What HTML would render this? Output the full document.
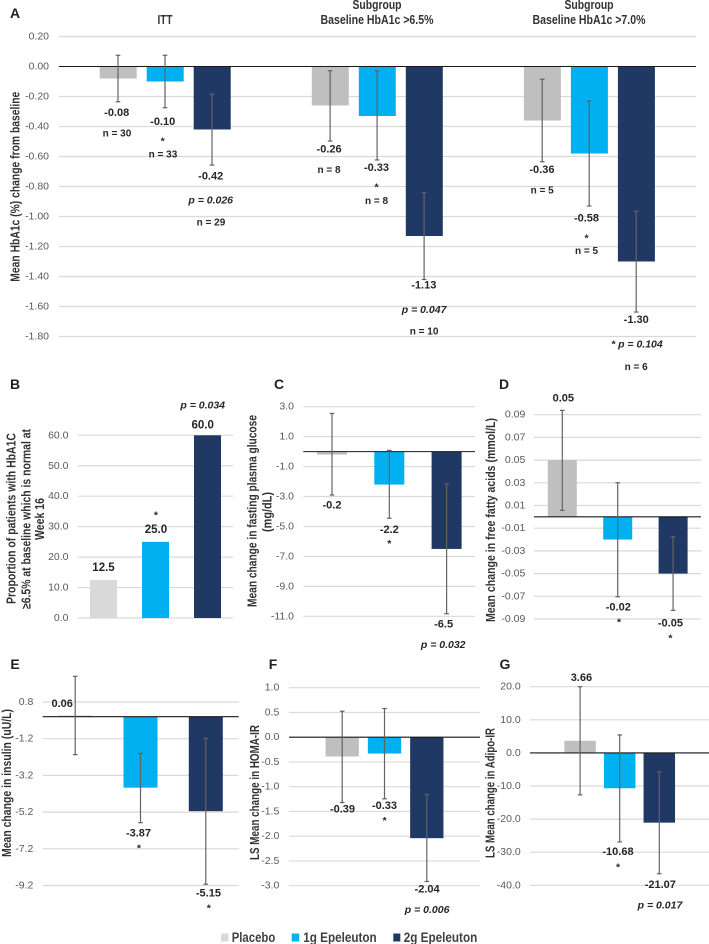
<!DOCTYPE html>
<html lang="en">
<head>
<meta charset="utf-8">
<title>Epeleuton glycaemic outcomes</title>
<style>
html,body{margin:0;padding:0;background:#fff;}
svg{display:block;font-family:"Liberation Sans",Arial,sans-serif;filter:blur(0.3px);}
.letter{font-size:14px;font-weight:bold;fill:#222;text-anchor:middle;dominant-baseline:central;}
.ptitle{font-size:12.5px;font-weight:bold;fill:#333;text-anchor:middle;dominant-baseline:central;}
.ytitle{font-size:12.5px;font-weight:bold;fill:#333;text-anchor:middle;dominant-baseline:central;}
.legend{font-size:13.5px;font-weight:bold;fill:#404040;dominant-baseline:central;}
</style>
</head>
<body>
<svg id="chart" width="709" height="944" viewBox="0 0 709 944" xmlns="http://www.w3.org/2000/svg">
  <rect width="709" height="944" fill="#fff"/>
  <g id="panels"></g>

  <text class="letter" x="15" y="13">A</text>
  <text class="letter" x="15" y="384">B</text>
  <text class="letter" x="279" y="384">C</text>
  <text class="letter" x="504" y="384">D</text>
  <text class="letter" x="15" y="664">E</text>
  <text class="letter" x="273" y="664">F</text>
  <text class="letter" x="505" y="664">G</text>

  <text class="ptitle" x="165" y="20" textLength="15" lengthAdjust="spacingAndGlyphs">ITT</text>
  <text class="ptitle" x="377" y="5" textLength="49" lengthAdjust="spacingAndGlyphs">Subgroup</text>
  <text class="ptitle" x="377" y="20" textLength="113" lengthAdjust="spacingAndGlyphs">Baseline HbA1c &gt;6.5%</text>
  <text class="ptitle" x="589" y="5" textLength="49" lengthAdjust="spacingAndGlyphs">Subgroup</text>
  <text class="ptitle" x="589" y="20" textLength="113" lengthAdjust="spacingAndGlyphs">Baseline HbA1c &gt;7.0%</text>

  <text class="ytitle" transform="rotate(-90 15.3 186.7)" x="15.3" y="186.7" textLength="190" lengthAdjust="spacingAndGlyphs">Mean HbA1c (%) change from baseline</text>
  <text class="ytitle" transform="rotate(-90 11.7 518.5)" x="11.7" y="518.5" textLength="171" lengthAdjust="spacingAndGlyphs">Proportion of patients with HbA1C</text>
  <text class="ytitle" transform="rotate(-90 26.7 519)" x="26.7" y="519" textLength="180" lengthAdjust="spacingAndGlyphs">≥6.5% at baseline which is normal at</text>
  <text class="ytitle" transform="rotate(-90 40 519)" x="40" y="519" textLength="42" lengthAdjust="spacingAndGlyphs">Week 16</text>
  <text class="ytitle" transform="rotate(-90 252.3 511)" x="252.3" y="511" textLength="192" lengthAdjust="spacingAndGlyphs">Mean change in fasting plasma glucose</text>
  <text class="ytitle" transform="rotate(-90 267.7 512)" x="267.7" y="512" textLength="40" lengthAdjust="spacingAndGlyphs">(mg/dL)</text>
  <text class="ytitle" transform="rotate(-90 491 520)" x="491" y="520" textLength="204" lengthAdjust="spacingAndGlyphs">Mean change in free fatty acids (mmol/L)</text>
  <text class="ytitle" transform="rotate(-90 6.8 783)" x="6.8" y="783" textLength="148" lengthAdjust="spacingAndGlyphs">Mean change in insulin (uU/L)</text>
  <text class="ytitle" transform="rotate(-90 255 792.5)" x="255" y="792.5" textLength="135" lengthAdjust="spacingAndGlyphs">LS Mean change in HOMA-IR</text>
  <text class="ytitle" transform="rotate(-90 490.7 793)" x="490.7" y="793" textLength="130" lengthAdjust="spacingAndGlyphs">LS Mean change in Adipo-IR</text>

  <g>
    <rect x="221" y="933.5" width="7.5" height="8" fill="#d9d9d9"/>
    <text class="legend" x="231.7" y="937.3" textLength="43.6" lengthAdjust="spacingAndGlyphs">Placebo</text>
    <rect x="291.7" y="933.5" width="7.5" height="8" fill="#00b0f0"/>
    <text class="legend" x="303.3" y="937.3" textLength="73.4" lengthAdjust="spacingAndGlyphs">1g Epeleuton</text>
    <rect x="393.3" y="933.5" width="7" height="8" fill="#1f3864"/>
    <text class="legend" x="403.7" y="937.3" textLength="73.6" lengthAdjust="spacingAndGlyphs">2g Epeleuton</text>
  </g>
</svg>

<script>
/* ---------- data ---------- */
const seriesNames = ['placebo', '1g', '2g'];

const aTicks = [0.2, 0, -0.2, -0.4, -0.6, -0.8, -1.0, -1.2, -1.4, -1.6, -1.8];
const aTickLabels = ['0.20', '0.00', '-0.20', '-0.40', '-0.60', '-0.80', '-1.00', '-1.20', '-1.40', '-1.60', '-1.80'];
const aValues = [-0.08, -0.10, -0.42, -0.26, -0.33, -1.13, -0.36, -0.58, -1.30];
const aErrHigh = [0.075, 0.075, -0.185, -0.028, -0.028, -0.84, -0.085, -0.23, -0.965];
const aErrLow = [-0.235, -0.275, -0.657, -0.497, -0.623, -1.42, -0.635, -0.93, -1.637];
const aPrinted = ['-0.08', '-0.10', '-0.42', '-0.26', '-0.33', '-1.13', '-0.36', '-0.58', '-1.30'];

const bTicks = [60, 50, 40, 30, 20, 10, 0];
const bTickLabels = ['60.0', '50.0', '40.0', '30.0', '20.0', '10.0', '0.0'];
const bValues = [12.5, 25.0, 60.0];
const bPrinted = ['12.5', '25.0', '60.0'];

const cTicks = [3, 1, -1, -3, -5, -7, -9, -11];
const cTickLabels = ['3.0', '1.0', '-1.0', '-3.0', '-5.0', '-7.0', '-9.0', '-11.0'];
const cValues = [-0.2, -2.2, -6.5];
const cErrHigh = [2.55, 0.08, -2.16];
const cErrLow = [-2.9, -4.45, -10.83];
const cPrinted = ['-0.2', '-2.2', '-6.5'];

const dTicks = [0.09, 0.07, 0.05, 0.03, 0.01, -0.01, -0.03, -0.05, -0.07, -0.09];
const dTickLabels = ['0.09', '0.07', '0.05', '0.03', '0.01', '-0.01', '-0.03', '-0.05', '-0.07', '-0.09'];
const dValues = [0.05, -0.02, -0.05];
const dErrHigh = [0.0938, 0.03, -0.0175];
const dErrLow = [0.0057, -0.0704, -0.0824];
const dPrinted = ['0.05', '-0.02', '-0.05'];

const eTicks = [0.8, -1.2, -3.2, -5.2, -7.2, -9.2];
const eTickLabels = ['0.8', '-1.2', '-3.2', '-5.2', '-7.2', '-9.2'];
const eValues = [0.06, -3.87, -5.15];
const eErrHigh = [2.2, -2.0, -1.18];
const eErrLow = [-2.07, -5.78, -9.13];
const ePrinted = ['0.06', '-3.87', '-5.15'];

const fTicks = [1, 0.5, 0, -0.5, -1, -1.5, -2, -2.5, -3];
const fTickLabels = ['1.0', '0.5', '0.0', '-0.5', '-1.0', '-1.5', '-2.0', '-2.5', '-3.0'];
const fValues = [-0.39, -0.33, -2.04];
const fErrHigh = [0.525, 0.58, -1.158];
const fErrLow = [-1.32, -1.245, -2.915];
const fPrinted = ['-0.39', '-0.33', '-2.04'];

const gTicks = [20, 10, 0, -10, -20, -30, -40];
const gTickLabels = ['20.0', '10.0', '0.0', '-10.0', '-20.0', '-30.0', '-40.0'];
const gValues = [3.66, -10.68, -21.07];
const gErrHigh = [20, 5.43, -5.73];
const gErrLow = [-12.67, -26.9, -36.5];
const gPrinted = ['3.66', '-10.68', '-21.07'];

/* ---------- annotation text (n counts, p values, significance marks) ---------- */
const aNotes = ['n = 30', '*', 'n = 33', 'p = 0.026', 'n = 29', 'n = 8', '*', 'n = 8', 'p = 0.047', 'n = 10', 'n = 5', '*', 'n = 5', '* p = 0.104', 'n = 6'];
const bNotes = ['*', 'p = 0.034'];
const cNotes = ['*', 'p = 0.032'];
const dNotes = ['*', '*'];
const eNotes = ['*', '*'];
const fNotes = ['*', 'p = 0.006'];
const gNotes = ['*', 'p = 0.017'];

/* ---------- layout (separate from data) ---------- */
const panels = [
  {id:'a', ticks:aTicks, tickLabels:aTickLabels, values:aValues, hi:aErrHigh, lo:aErrLow, printed:aPrinted, notes:aNotes,
   left:59, right:696, top:36.5, bottom:336.5, tickRight:49, start:118, step:47, groupStep:212.1, barW:37, barOff:0.2, valSize:11, zero:true,
   valPos:[[-1.3,11,'l'],[-2.3,14,'l'],[-1.3,11.3,'l'],[-1,8.3,'l'],[-0.6,8,'l'],[-0.3,6,'l'],[-0.3,8.3,'l'],[-2.7,12.3,'l'],[0,8,'l']],
   notePos:[[0,-1,32,'l'],[1,-2.3,31.3,'l'],[1,-2,47.3,'l'],[2,-1.3,35.3,'l'],[2,-1,58,'l'],[3,-1,29.3,'l'],[4,-0.6,25,'l'],[4,-0.6,41.3,'l'],[5,0,30.4,'l'],[5,0,52.7,'l'],[6,0,29.3,'l'],[7,-2.7,30,'l'],[7,-2.7,45.7,'l'],[8,0.7,32.3,'l'],[8,0,55.3,'l']]},
  {id:'b', ticks:bTicks, tickLabels:bTickLabels, values:bValues, hi:null, lo:null, printed:bPrinted, notes:bNotes,
   left:77.7, right:233, top:435.3, bottom:618, tickRight:68.5, start:103.5, step:52, groupStep:0, barW:27, barOff:0, valSize:11.5, zero:false, placeboColor:'#d9d9d9',
   valPos:[[0,-12,'v'],[0.4,-12,'v'],[-4.8,-10,'v']],
   notePos:[[1,0.4,-29.2,'v'],[2,-4.8,-30,'v']]},
  {id:'c', ticks:cTicks, tickLabels:cTickLabels, values:cValues, hi:cErrHigh, lo:cErrLow, printed:cPrinted, notes:cNotes,
   left:303.3, right:475, top:406.7, bottom:616.3, tickRight:294, start:332, step:57.3, groupStep:0, barW:30, barOff:0, valSize:11, zero:true,
   valPos:[[0,10.7,'l'],[0,11.7,'l'],[-3,10.6,'l']],
   notePos:[[1,0,23.4,'l'],[2,-3.4,31.3,'l']]},
  {id:'d', ticks:dTicks, tickLabels:dTickLabels, values:dValues, hi:dErrHigh, lo:dErrLow, printed:dPrinted, notes:dNotes,
   left:534, right:701, top:414.7, bottom:619, tickRight:525.3, start:562.3, step:55.4, groupStep:0, barW:29, barOff:0, valSize:11, zero:true,
   valPos:[[1,-12,'h'],[0.6,10.6,'l'],[-2.7,13,'l']],
   notePos:[[1,1.3,23,'l'],[2,-2.7,25.7,'l']]},
  {id:'e', ticks:eTicks, tickLabels:eTickLabels, values:eValues, hi:eErrHigh, lo:eErrLow, printed:ePrinted, notes:eNotes,
   left:42.7, right:238.7, top:702, bottom:885.5, tickRight:33.3, start:75.2, step:65.3, groupStep:0, barW:34, barOff:0, valSize:11, zero:true,
   valPos:[[-13,-11.6,'v'],[-2,11,'l'],[2.6,9.4,'l']],
   notePos:[[1,-1.6,23.3,'l'],[2,3,21.7,'l']]},
  {id:'f', ticks:fTicks, tickLabels:fTickLabels, values:fValues, hi:fErrHigh, lo:fErrLow, printed:fPrinted, notes:fNotes,
   left:289, right:480, top:687.7, bottom:885.7, tickRight:279.3, start:342.2, step:42.3, groupStep:0, barW:33.3, barOff:0, valSize:11, zero:true,
   valPos:[[0.3,7,'l'],[0,7.3,'l'],[0.3,8,'l']],
   notePos:[[1,0,19.6,'l'],[2,0.3,28.4,'l']]},
  {id:'g', ticks:gTicks, tickLabels:gTickLabels, values:gValues, hi:gErrHigh, lo:gErrLow, printed:gPrinted, notes:gNotes,
   left:530, right:709, top:686.7, bottom:885.3, tickRight:520.7, start:580.1, step:39.6, groupStep:0, barW:31.5, barOff:0, valSize:11, zero:true,
   valPos:[[1.3,-8.7,'h'],[-1.7,10.3,'l'],[1,11.3,'l']],
   notePos:[[1,-1.7,23,'l'],[2,0.7,31.6,'l']]}
];

const NS = 'http://www.w3.org/2000/svg';
const seriesColors = ['#bfbfbf', '#00b0f0', '#1f3864'];

function mk(tag, attrs, parent) {
  const el = document.createElementNS(NS, tag);
  for (const k in attrs) el.setAttribute(k, attrs[k]);
  parent.appendChild(el);
  return el;
}

function drawNote(g, x, y, str, size) {
  const italic = str.indexOf('p =') >= 0;
  const star = str === '*';
  const isN = str.indexOf('n =') === 0;
  const t = mk('text', {
    x: x,
    y: y + (star ? 2.6 : 0),
    'text-anchor': 'middle',
    'dominant-baseline': 'central',
    'font-size': size || (star ? 10.5 : isN ? 10 : 10.5),
    'font-weight': 'bold',
    'font-style': italic ? 'italic' : 'normal',
    fill: '#262626'
  }, g);
  t.textContent = str;
  return t;
}

function drawPanel(p) {
  const root = document.getElementById('panels');
  const g = mk('g', {}, root);
  
  

  /* axis functions */
  const dMax = p.ticks[0], dMin = p.ticks[p.ticks.length - 1];
  const yScale = v => p.top + (dMax - v) * (p.bottom - p.top) / (dMax - dMin);
  const xCenter = i => p.start + Math.floor(i / 3) * p.groupStep + (i % 3) * p.step;

  /* gridlines and tick labels */
  p.ticks.forEach((tv, i) => {
    const line = mk('line', {x1: p.left, x2: p.right, y1: yScale(tv), y2: yScale(tv), stroke: '#d9d9d9', 'stroke-width': 1.2}, g);
    
    
    const lab = mk('text', {x: p.tickRight, y: yScale(tv), 'text-anchor': 'end', 'dominant-baseline': 'central', 'font-size': 10.5, fill: '#595959'}, g);
    lab.textContent = p.tickLabels[i];
    
    
  });

  /* bars */
  p.values.forEach((v, i) => {
    const s = i % 3;
    const y0 = yScale(0), yv = yScale(v);
    const bar = mk('rect', {
      x: xCenter(i) - p.barW / 2 + p.barOff,
      y: Math.min(y0, yv),
      width: p.barW,
      height: Math.abs(y0 - yv),
      fill: (s === 0 && p.placeboColor) ? p.placeboColor : seriesColors[s]
    }, g);
    
    
  });

  /* zero line */
  if (p.zero) {
    const z = mk('line', {x1: p.left, x2: p.right, y1: yScale(0), y2: yScale(0), stroke: '#1a1a1a', 'stroke-width': 1.1}, g);
    
    
  }

  /* error bars */
  if (p.hi) {
    p.values.forEach((v, i) => {
      const x = xCenter(i);
      const yh = yScale(p.hi[i]), yl = yScale(p.lo[i]);
      const eg = mk('g', {stroke: '#636363', 'stroke-width': 1.2, fill: 'none'}, g);
      
      
      mk('line', {x1: x, x2: x, y1: yh, y2: yl}, eg);
      mk('line', {x1: x - 2.3, x2: x + 2.3, y1: yh, y2: yh}, eg);
      mk('line', {x1: x - 2.3, x2: x + 2.3, y1: yl, y2: yl}, eg);
    });
  }

  /* anchor of a label relative to a bar */
  const anchorY = (i, kind) => {
    if (kind === 'l' && p.lo) return yScale(p.lo[i]);
    if (kind === 'h' && p.hi) return yScale(p.hi[i]);
    return yScale(p.values[i]);
  };

  /* printed values */
  p.printed.forEach((str, i) => {
    const pos = p.valPos[i];
    const t = drawNote(g, xCenter(i) + pos[0], anchorY(i, pos[2]) + pos[1], str, p.valSize);
    
    
  });

  /* annotations */
  p.notes.forEach((str, k) => {
    const pos = p.notePos[k];
    const t = drawNote(g, xCenter(pos[0]) + pos[1], anchorY(pos[0], pos[3]) + pos[2], str);
    
    
  });
}

panels.forEach(drawPanel);
</script>
</body>
</html>
